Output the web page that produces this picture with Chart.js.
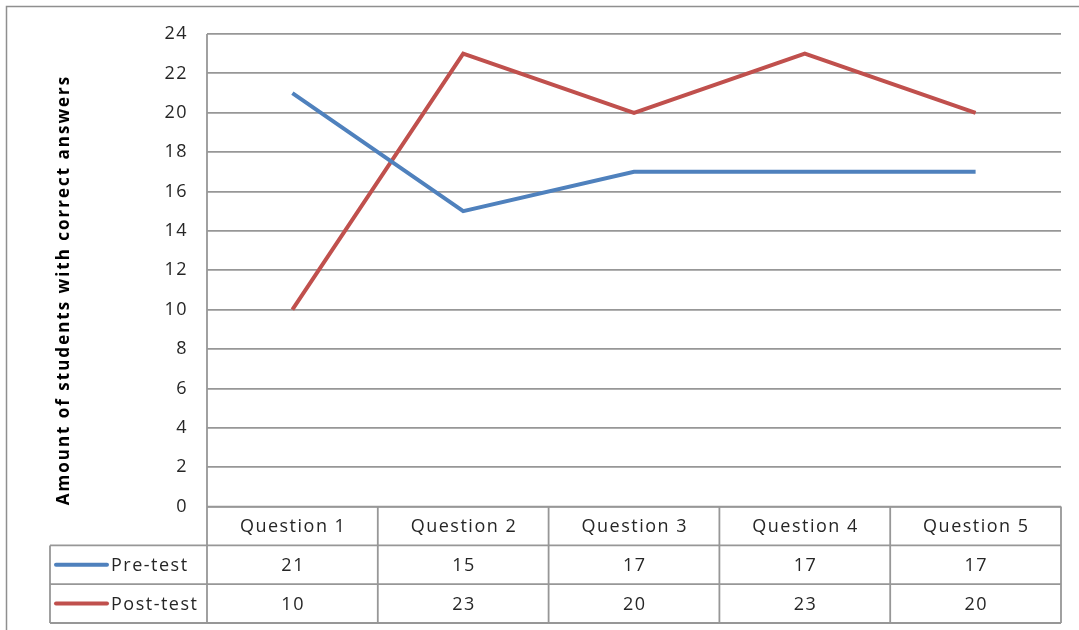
<!DOCTYPE html>
<html>
<head>
<meta charset="utf-8">
<script src="https://cdn.jsdelivr.net/npm/chart.js@4/dist/chart.umd.min.js"></script>
<style>
html,body{margin:0;padding:0;background:#fff;}
#wrap{width:1079px;height:630px;position:relative;}
</style>
</head>
<body>
<div id="wrap"><canvas id="c" width="1079" height="630"></canvas></div>
<script>
const categories = ['Question 1', 'Question 2', 'Question 3', 'Question 4', 'Question 5'];
const seriesNames = ['Pre-test', 'Post-test'];
const preTest = [21, 15, 17, 17, 17];
const postTest = [10, 23, 20, 23, 20];
const yAxisTitle = 'Amount of students with correct answers';
const yMin = 0, yMax = 24, yStep = 2;

const FONT = '"Open Sans", Lato, sans-serif';
const TEXT = '#262626';
const GRID = '#979797';
const COLORS = ['#4F81BD', '#C0504D'];
const SPACING = '1.5px';

const tablePlugin = {
  id: 'dataTable',
  beforeDraw(chart) {
    const ctx = chart.ctx;
    ctx.save();
    ctx.fillStyle = '#fff';
    ctx.fillRect(0, 0, chart.width, chart.height);
    ctx.strokeStyle = '#8f8f8f';
    ctx.lineWidth = 1.5;
    ctx.beginPath();
    ctx.moveTo(6.5, chart.height + 2); ctx.lineTo(6.5, 6.5); ctx.lineTo(chart.width + 2, 6.5);
    ctx.stroke();
    ctx.restore();
    ctx.letterSpacing = SPACING;
  },
  afterDraw(chart) {
    const ctx = chart.ctx;
    const area = chart.chartArea;
    const xs = chart.scales.x;
    const n = categories.length;
    const colW = (area.right - area.left) / n;
    const rowH = 38.8;
    const top = area.bottom;
    const rows = [top, top + rowH, top + 2 * rowH, top + 3 * rowH];
    const leftX = 50;
    ctx.save();
    ctx.letterSpacing = SPACING;
    ctx.strokeStyle = GRID;
    ctx.lineWidth = 1.8;
    ctx.beginPath();
    ctx.moveTo(area.left, rows[0]); ctx.lineTo(area.right, rows[0]);
    ctx.moveTo(leftX, rows[1]); ctx.lineTo(area.right, rows[1]);
    ctx.moveTo(leftX, rows[2]); ctx.lineTo(area.right, rows[2]);
    ctx.moveTo(leftX, rows[3]); ctx.lineTo(area.right, rows[3]);
    ctx.moveTo(leftX, rows[1]); ctx.lineTo(leftX, rows[3]);
    for (let i = 0; i <= n; i++) {
      const x = area.left + i * colW;
      ctx.moveTo(x, i === 0 ? area.top : rows[0]); ctx.lineTo(x, rows[3]);
    }
    ctx.stroke();

    ctx.fillStyle = TEXT;
    ctx.font = '18px ' + FONT;
    ctx.textAlign = 'center';
    ctx.textBaseline = 'middle';
    categories.forEach((c, i) => {
      ctx.fillText(c, xs.getPixelForValue(i) + 0.75, (rows[0] + rows[1]) / 2 + 1);
    });
    const dataRows = [preTest, postTest];
    dataRows.forEach((arr, r) => {
      const cy = (rows[r + 1] + rows[r + 2]) / 2 + 1;
      arr.forEach((v, i) => {
        ctx.fillText(String(v), xs.getPixelForValue(i) + 0.75, cy);
      });
      ctx.strokeStyle = COLORS[r];
      ctx.lineWidth = 4;
      ctx.lineCap = 'round';
      ctx.beginPath();
      ctx.moveTo(56, cy - 1); ctx.lineTo(107, cy - 1);
      ctx.stroke();
      ctx.textAlign = 'left';
      ctx.fillText(seriesNames[r], 111, cy);
      ctx.textAlign = 'center';
    });

    ctx.translate(64, 290);
    ctx.rotate(-Math.PI / 2);
    ctx.font = 'bold 17px ' + FONT;
    ctx.letterSpacing = '2px';
    ctx.textAlign = 'center';
    ctx.textBaseline = 'middle';
    ctx.fillStyle = '#000';
    ctx.fillText(yAxisTitle, 0, 0);
    ctx.restore();
  }
};

new Chart(document.getElementById('c'), {
  type: 'line',
  data: {
    labels: categories,
    datasets: [
      { label: seriesNames[0], data: preTest, borderColor: COLORS[0], backgroundColor: COLORS[0], borderWidth: 4, pointRadius: 0, tension: 0 },
      { label: seriesNames[1], data: postTest, borderColor: COLORS[1], backgroundColor: COLORS[1], borderWidth: 4, pointRadius: 0, tension: 0 }
    ]
  },
  options: {
    responsive: false,
    animation: false,
    layout: { padding: { top: 34, right: 18, bottom: 7, left: 0 } },
    plugins: { legend: { display: false }, tooltip: { enabled: false }, title: { display: false } },
    scales: {
      x: {
        offset: true,
        grid: { display: false, drawTicks: false },
        border: { display: false },
        ticks: { display: false },
        afterFit(s) { s.height = 116.4; }
      },
      y: {
        min: yMin, max: yMax,
        grid: { color: GRID, lineWidth: 1.8, drawTicks: false },
        border: { display: false },
        ticks: { stepSize: yStep, padding: 19, color: TEXT, font: { family: FONT, size: 18 } },
        afterFit(s) { s.width = 207; }
      }
    }
  },
  plugins: [tablePlugin]
});
</script>
</body>
</html>
